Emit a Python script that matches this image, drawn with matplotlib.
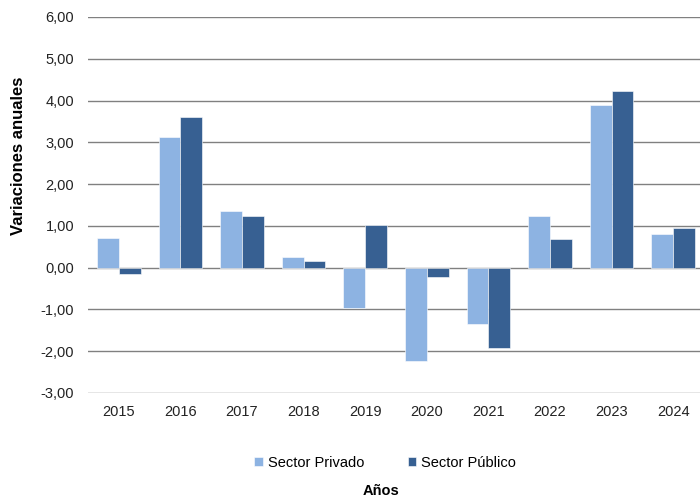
import numpy as np
import matplotlib
matplotlib.use("Agg")
import matplotlib.pyplot as plt
from matplotlib.ticker import FuncFormatter

years = ["2015", "2016", "2017", "2018", "2019", "2020", "2021", "2022", "2023", "2024"]
privado = [0.70, 3.12, 1.35, 0.25, -0.97, -2.23, -1.35, 1.23, 3.89, 0.80]
publico = [-0.15, 3.60, 1.23, 0.17, 1.03, -0.22, -1.92, 0.68, 4.22, 0.96]

C_PRIV = "#8DB3E2"
C_PUB = "#376092"

plt.rcParams["font.family"] = ["Liberation Sans", "DejaVu Sans"]

fig = plt.figure(figsize=(7.0, 5.04), dpi=100)
ax = fig.add_axes([88 / 700, 1 - 393 / 504, 616 / 700, 376 / 504])

x = np.arange(len(years))
w = 0.355
ax.bar(x - w / 2, privado, w, color=C_PRIV, edgecolor="white", linewidth=0.4,
       label="Sector Privado", zorder=3)
ax.bar(x + w / 2, publico, w, color=C_PUB, edgecolor="white", linewidth=0.4,
       label="Sector Público", zorder=3)

ax.set_xlim(-0.5, len(years) - 0.5)
ax.set_ylim(-3, 6)
ax.set_yticks(np.arange(-3, 7, 1))
ax.yaxis.set_major_formatter(FuncFormatter(lambda v, p: f"{v:.2f}".replace(".", ",")))
ax.set_xticks(x)
ax.set_xticklabels(years)
ax.grid(axis="y", color="#808080", linewidth=1.0, zorder=0)
for s in ax.spines.values():
    s.set_visible(False)
ax.tick_params(axis="both", length=0, labelsize=10.5, colors="#222222")
ax.tick_params(axis="y", pad=10)
ax.tick_params(axis="x", pad=9)

ax.set_ylabel("Variaciones anuales", fontsize=12, fontweight="bold")
# label sits higher than the axes middle, like the original
ax.yaxis.set_label_coords(-62 / 616, (393 - 156) / 376)
fig.text(381 / 700, 1 - 491 / 504, "Años", ha="center", va="center",
         fontsize=10.5, fontweight="bold")

fig.legend(loc="center", bbox_to_anchor=(385 / 700, 1 - 463 / 504), ncol=2,
           frameon=False, fontsize=10.5, handlelength=0.6, handleheight=0.6,
           handletextpad=0.3, columnspacing=3.0)

fig.savefig("out.png", dpi=100)
